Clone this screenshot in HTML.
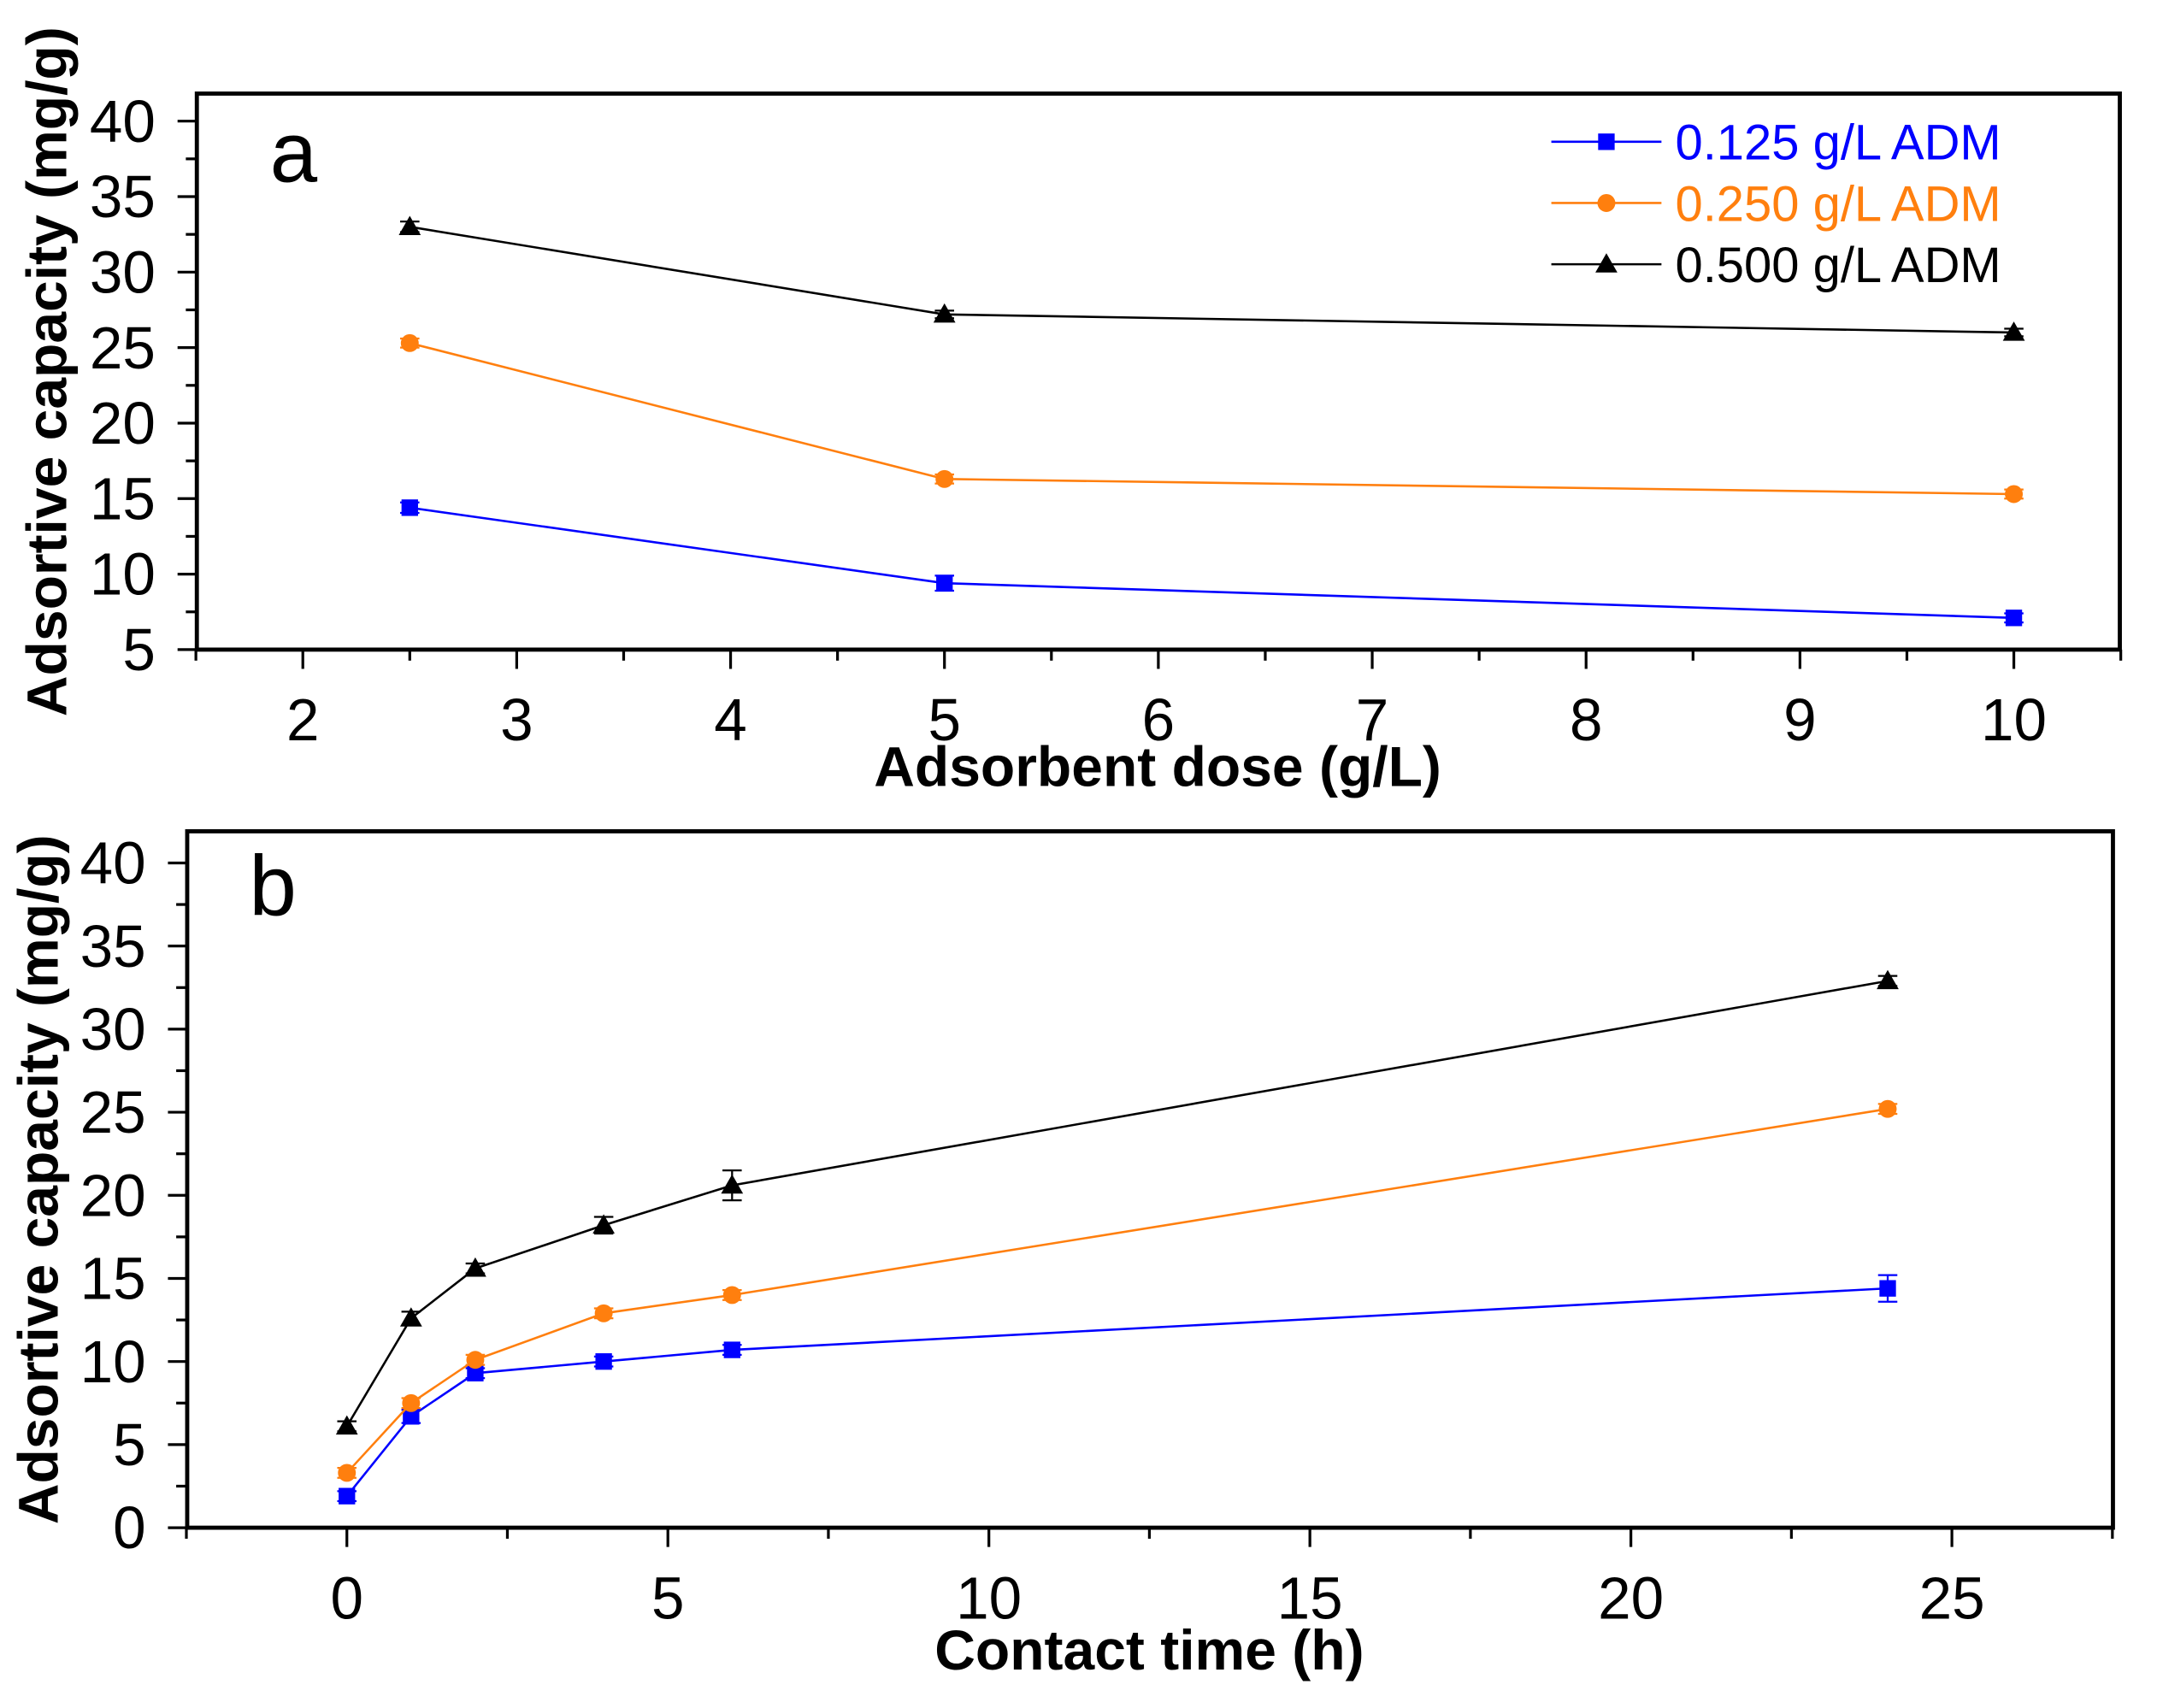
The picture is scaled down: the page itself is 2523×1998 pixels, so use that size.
<!DOCTYPE html>
<html><head><meta charset="utf-8"><style>
html,body{margin:0;padding:0;background:#fff;}
svg{display:block;font-family:"Liberation Sans",Arial,sans-serif;}
</style></head><body>
<svg id="fig" width="2523" height="1998" viewBox="0 0 1567 1241" preserveAspectRatio="none" xmlns="http://www.w3.org/2000/svg">
<g id="pa"></g>
<g id="pb"></g>
</svg>
<script>
// Panel a data
const aX = [2.5, 5, 10];
const aBlue = [14.4, 9.4, 7.1];
const aBlueErr = [0.35, 0.5, 0.3];
const aOrange = [25.3, 16.3, 15.3];
const aOrangeErr = [0.3, 0.3, 0.3];
const aBlack = [33.0, 27.2, 26.0];
const aBlackErr = [0.35, 0.25, 0.25];
const aXTicks = [2, 3, 4, 5, 6, 7, 8, 9, 10];
const aYTicks = [5, 10, 15, 20, 25, 30, 35, 40];
// Panel b data
const bX = [0, 1, 2, 4, 6, 24];
const bBlue = [1.9, 6.7, 9.3, 10.0, 10.7, 14.4];
const bBlueErr = [0.3, 0.4, 0.3, 0.3, 0.3, 0.8];
const bOrange = [3.3, 7.5, 10.1, 12.9, 14.0, 25.2];
const bOrangeErr = [0.3, 0.3, 0.3, 0.3, 0.3, 0.3];
const bBlack = [6.1, 12.6, 15.6, 18.2, 20.6, 32.9];
const bBlackErr = [0.3, 0.4, 0.3, 0.5, 0.9, 0.3];
const bXTicks = [0, 5, 10, 15, 20, 25];
const bYTicks = [0, 5, 10, 15, 20, 25, 30, 35, 40];
const legendLabels = ['0.125 g/L ADM', '0.250 g/L ADM', '0.500 g/L ADM'];

const NS = 'http://www.w3.org/2000/svg';
function mk(parent, tag, attrs, text) {
  const e = document.createElementNS(NS, tag);
  for (const k in attrs) e.setAttribute(k, attrs[k]);
  if (text !== undefined) e.textContent = text;
  parent.appendChild(e);
  return e;
}
const BLUE = '#0000ff', ORANGE = '#ff7f0e', BLACK = '#000';

function marker(g, shape, cx, cy, color) {
  let m;
  if (shape === 'square') m = mk(g, 'rect', {x: cx - 6, y: cy - 6, width: 12, height: 12, fill: color});
  else if (shape === 'circle') m = mk(g, 'circle', {cx: cx, cy: cy, r: 6.5, fill: color});
  else m = mk(g, 'path', {d: `M${cx},${cy - 8}L${cx + 8},${cy + 6}L${cx - 8},${cy + 6}Z`, fill: color});
  return m;
}

function panel(g, cfg) {
  const sx = v => cfg.x0px + (v - cfg.x0v) * cfg.xs;
  const sy = v => cfg.y0px - (v - cfg.y0v) * cfg.ys;
  cfg.series.forEach((s, si) => {
    const sg = mk(g, 'g', {});
    
    
    const pts = cfg.xs_data.map((x, i) => sx(x) + ',' + sy(s.vals[i])).join(' ');
    const line = mk(sg, 'polyline', {points: pts, fill: 'none', stroke: s.color, 'stroke-width': 1.6});
    
    
    cfg.xs_data.forEach((x, i) => {
      const cx = sx(x), y1 = sy(s.vals[i] + s.err[i]), y2 = sy(s.vals[i] - s.err[i]);
      const eb = mk(sg, 'path', {d: `M${cx},${y1}V${y2}M${cx - 7},${y1}H${cx + 7}M${cx - 7},${y2}H${cx + 7}`, stroke: s.color, 'stroke-width': 1.4, fill: 'none'});
      
      
      const m = marker(sg, s.shape, cx, sy(s.vals[i]), s.color);
      
      
    });
  });
  const fr = mk(g, 'rect', {x: cfg.L, y: cfg.T, width: cfg.R - cfg.L, height: cfg.B - cfg.T, fill: 'none', stroke: '#000', 'stroke-width': 3});
  
  
  const xt = mk(g, 'g', {});
  
  
  for (let v = cfg.xMin; v <= cfg.xMax + 1e-6; v += cfg.xMinor) {
    const px = sx(v);
    const major = cfg.xTicks.some(t => Math.abs(t - v) < 1e-6);
    mk(xt, 'line', {x1: px, x2: px, y1: cfg.B, y2: cfg.B + (major ? 14 : 8), stroke: '#000', 'stroke-width': 2});
  }
  cfg.xTicks.forEach(v => {
    const t = mk(xt, 'text', {x: sx(v), y: cfg.B + 66, 'font-size': 43, 'text-anchor': 'middle'}, String(v));
    
    
  });
  const yt = mk(g, 'g', {});
  
  
  for (let v = cfg.yMin; v <= cfg.yMax + 1e-6; v += cfg.yMinor) {
    const py = sy(v);
    const major = cfg.yTicks.some(t => Math.abs(t - v) < 1e-6);
    mk(yt, 'line', {x1: cfg.L, x2: cfg.L - (major ? 14 : 8), y1: py, y2: py, stroke: '#000', 'stroke-width': 2});
  }
  cfg.yTicks.forEach(v => {
    const t = mk(yt, 'text', {x: cfg.L - 30, y: sy(v) + 15, 'font-size': 43, 'text-anchor': 'end'}, String(v));
    
    
  });
  const xtitle = mk(g, 'text', {x: cfg.xTitleX, y: cfg.xTitleY, 'font-size': 41, 'font-weight': 'bold', 'text-anchor': 'middle'}, cfg.xTitle);
  
  
  const ytitle = mk(g, 'text', {x: 0, y: 0, 'font-size': 41, 'font-weight': 'bold', 'text-anchor': 'middle', transform: `translate(${cfg.yTitleX},${cfg.yTitleY}) rotate(-90)`}, 'Adsortive capacity (mg/g)');
  
  
  const lab = mk(g, 'text', {x: cfg.labX, y: cfg.labY, 'font-size': 62}, cfg.label);
  
  
}

const ga = document.getElementById('pa');
panel(ga, {
  L: 143, R: 1540, T: 68, B: 472,
  x0px: 220, x0v: 2, xs: (1463 - 220) / 8,
  y0px: 472, y0v: 5, ys: (472 - 88) / 35,
  xMin: 1.5, xMax: 10.5, xMinor: 0.5, xTicks: aXTicks,
  yMin: 5, yMax: 40, yMinor: 2.5, yTicks: aYTicks,
  xs_data: aX,
  series: [
    {name: 'blue', vals: aBlue, err: aBlueErr, color: BLUE, shape: 'square'},
    {name: 'orange', vals: aOrange, err: aOrangeErr, color: ORANGE, shape: 'circle'},
    {name: 'black', vals: aBlack, err: aBlackErr, color: BLACK, shape: 'tri'}
  ],
  xTitle: 'Adsorbent dose (g/L)', xTitleX: 841, xTitleY: 571,
  yTitleX: 48, yTitleY: 270, label: 'a', labX: 196, labY: 132
});

const gb = document.getElementById('pb');
panel(gb, {
  L: 136, R: 1535, T: 604, B: 1110,
  x0px: 252, x0v: 0, xs: (1418 - 252) / 25,
  y0px: 1110, y0v: 0, ys: (1110 - 627) / 40,
  xMin: -2.5, xMax: 27.5, xMinor: 2.5, xTicks: bXTicks,
  yMin: 0, yMax: 40, yMinor: 2.5, yTicks: bYTicks,
  xs_data: bX,
  series: [
    {name: 'blue', vals: bBlue, err: bBlueErr, color: BLUE, shape: 'square'},
    {name: 'orange', vals: bOrange, err: bOrangeErr, color: ORANGE, shape: 'circle'},
    {name: 'black', vals: bBlack, err: bBlackErr, color: BLACK, shape: 'tri'}
  ],
  xTitle: 'Contact time (h)', xTitleX: 835, xTitleY: 1213,
  yTitleX: 42, yTitleY: 857, label: 'b', labX: 181, labY: 665
});

const lg = mk(ga, 'g', {});


const legColors = [BLUE, ORANGE, BLACK];
const legShapes = ['square', 'circle', 'tri'];
legendLabels.forEach((txt, i) => {
  const y = 103 + i * 44.5;
  const e = mk(lg, 'g', {});
  
  
  mk(e, 'line', {x1: 1127, x2: 1207, y1: y, y2: y, stroke: legColors[i], 'stroke-width': 1.6});
  marker(e, legShapes[i], 1167, y, legColors[i]);
  mk(e, 'text', {x: 1217, y: y + 13, 'font-size': 36, fill: legColors[i]}, txt);
});
</script>
</body></html>
